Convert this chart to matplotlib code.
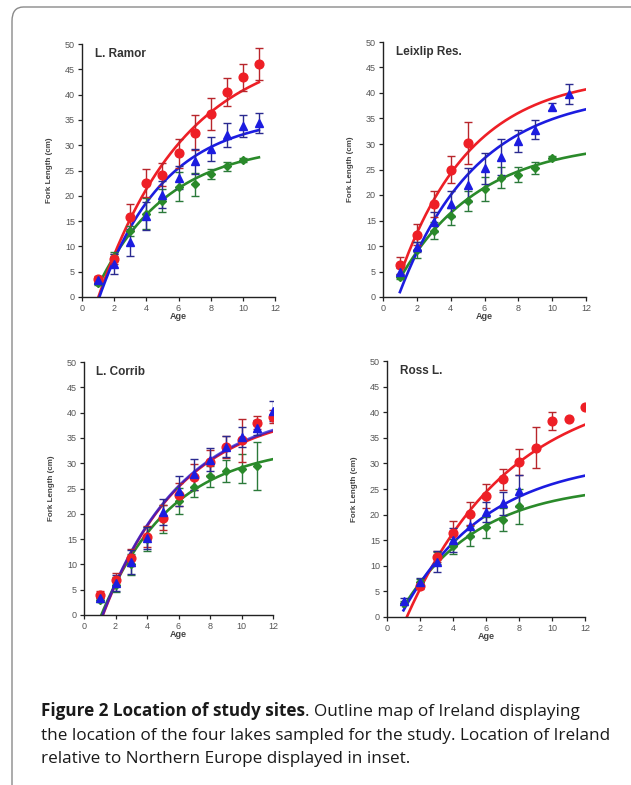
import numpy as np
import matplotlib
matplotlib.use("Agg")
import matplotlib.pyplot as plt
from matplotlib.patches import FancyBboxPatch

plt.rcParams['font.family'] = ['Liberation Sans', 'DejaVu Sans']

# ---------------- data ----------------
panel_titles = ["L. Ramor", "Leixlip Res.", "L. Corrib", "Ross L."]

# L. Ramor
ramor_red_age = [1, 2, 3, 4, 5, 6, 7, 8, 9, 10, 11]
ramor_red = [3.6, 7.5, 15.8, 22.5, 24.2, 28.4, 32.5, 36.2, 40.5, 43.4, 46.0]
ramor_red_err = [0.5, 1.0, 2.5, 2.8, 2.3, 2.9, 3.5, 3.2, 2.7, 2.7, 3.2]
ramor_blue_age = [1, 2, 3, 4, 5, 6, 7, 8, 9, 10, 11]
ramor_blue = [3.3, 6.5, 10.8, 16.0, 20.2, 23.6, 26.8, 29.3, 32.0, 33.8, 34.4]
ramor_blue_err = [0.5, 1.9, 2.6, 2.8, 2.7, 2.3, 2.4, 2.4, 2.4, 2.1, 1.9]
ramor_green_age = [1, 2, 3, 4, 5, 6, 7, 8, 9, 10]
ramor_green = [2.7, 8.0, 13.0, 16.5, 19.0, 21.8, 22.3, 24.3, 25.8, 27.0]
ramor_green_err = [0.4, 0.8, 1.0, 3.0, 2.3, 2.9, 2.3, 0.9, 0.8, 0.4]

# Leixlip Res.
leix_red_age = [1, 2, 3, 4, 5]
leix_red = [6.2, 12.2, 18.2, 25.0, 30.2]
leix_red_err = [1.6, 2.1, 2.5, 2.7, 4.2]
leix_blue_age = [1, 2, 3, 4, 5, 6, 7, 8, 9, 10, 11]
leix_blue = [5.0, 9.8, 14.7, 18.2, 22.0, 25.2, 27.5, 30.6, 32.8, 37.3, 39.8]
leix_blue_err = [0.6, 1.0, 2.0, 2.5, 3.3, 3.0, 3.5, 2.1, 1.9, 0.7, 1.9]
leix_green_age = [1, 2, 3, 4, 5, 6, 7, 8, 9, 10]
leix_green = [4.0, 9.2, 13.0, 15.8, 18.8, 21.2, 23.4, 24.0, 25.3, 27.3]
leix_green_err = [0.5, 1.6, 1.7, 1.7, 2.0, 2.3, 2.0, 1.4, 1.2, 0.3]

# L. Corrib
corrib_red_age = [1, 2, 3, 4, 5, 6, 7, 8, 9, 10, 11, 12]
corrib_red = [4.0, 7.0, 11.3, 15.5, 19.2, 23.8, 27.3, 30.2, 33.2, 34.5, 38.0, 39.2]
corrib_red_err = [0.7, 1.3, 1.7, 2.0, 2.5, 2.3, 2.6, 2.5, 2.2, 4.3, 1.3, 1.3]
corrib_blue_age = [1, 2, 3, 4, 5, 6, 7, 8, 9, 10, 11, 12]
corrib_blue = [3.3, 6.3, 10.5, 15.2, 20.3, 24.5, 27.8, 30.7, 33.3, 35.2, 37.0, 40.3]
corrib_blue_err = [0.4, 1.6, 2.4, 2.2, 2.6, 3.0, 3.1, 2.3, 2.1, 2.0, 1.5, 1.9]
corrib_green_age = [1, 2, 3, 4, 5, 6, 7, 8, 9, 10, 11]
corrib_green = [3.0, 6.0, 10.0, 15.0, 19.0, 22.5, 25.3, 27.4, 28.5, 28.9, 29.5]
corrib_green_err = [0.4, 1.5, 2.0, 2.3, 2.7, 2.6, 1.9, 2.1, 2.2, 2.9, 4.7]

# Ross L.
ross_red_age = [2, 3, 4, 5, 6, 7, 8, 9, 10, 11, 12]
ross_red = [6.0, 11.8, 16.5, 20.2, 23.6, 26.9, 30.3, 33.1, 38.3, 38.7, 41.0]
ross_red_err = [0.5, 1.0, 2.3, 2.2, 2.4, 2.0, 2.6, 4.0, 1.7, 0.0, 0.0]
ross_blue_age = [1, 2, 3, 4, 5, 6, 7, 8]
ross_blue = [3.2, 6.8, 10.8, 15.0, 17.8, 20.5, 22.2, 24.6]
ross_blue_err = [0.6, 0.8, 2.0, 2.4, 2.2, 1.9, 2.3, 3.1]
ross_green_age = [1, 2, 3, 4, 5, 6, 7, 8]
ross_green = [2.8, 6.8, 11.5, 13.8, 15.8, 17.5, 19.0, 21.6]
ross_green_err = [0.4, 0.6, 1.2, 1.4, 1.9, 2.0, 2.2, 3.4]

# fitted growth curves: (L_inf, K, t0, last age)
ramor_fits = {"red": (50.5, 0.184, 1.02, 11), "blue": (36.0, 0.25, 1.08, 11), "green": (30.4, 0.231, 0.68, 11)}
leix_fits = {"red": (43.65, 0.236, 0.57, 12), "blue": (40.3, 0.22, 0.89, 12), "green": (30.6, 0.216, 0.42, 12)}
corrib_fits = {"red": (41.0, 0.20, 1.20, 12), "blue": (41.4, 0.198, 1.18, 12), "green": (33.7, 0.225, 1.10, 12)}
ross_fits = {"red": (45.9, 0.158, 1.20, 12), "blue": (31.1, 0.195, 0.78, 12), "green": (26.0, 0.217, 0.63, 12)}

panels = [
    (ramor_red_age, ramor_red, ramor_red_err, ramor_blue_age, ramor_blue, ramor_blue_err,
     ramor_green_age, ramor_green, ramor_green_err, ramor_fits),
    (leix_red_age, leix_red, leix_red_err, leix_blue_age, leix_blue, leix_blue_err,
     leix_green_age, leix_green, leix_green_err, leix_fits),
    (corrib_red_age, corrib_red, corrib_red_err, corrib_blue_age, corrib_blue, corrib_blue_err,
     corrib_green_age, corrib_green, corrib_green_err, corrib_fits),
    (ross_red_age, ross_red, ross_red_err, ross_blue_age, ross_blue, ross_blue_err,
     ross_green_age, ross_green, ross_green_err, ross_fits),
]

caption_bold = "Figure 2 Location of study sites"
caption_lines = [". Outline map of Ireland displaying",
                 "the location of the four lakes sampled for the study. Location of Ireland",
                 "relative to Northern Europe displayed in inset."]

# ---------------- styling ----------------
W, H = 631, 785
COL = {"red": "#ee1f26", "blue": "#1c1ce0", "green": "#2a8a2a"}
ECOL = {"red": "#b8262c", "blue": "#2a2a90", "green": "#2b7a3a"}
MARK = {"red": ("o", 6.3), "blue": ("^", 6.1), "green": ("D", 4.4)}

# axes boxes in pixels: left, right, top, bottom
boxes = [(82, 275, 44, 297), (383, 586, 42, 297), (84, 273, 362, 615), (387, 585, 361, 617)]

fig = plt.figure(figsize=(W / 100, H / 100), dpi=100)

# frame
frame = FancyBboxPatch((12 / W, -0.05), 1.2, (H - 7) / H + 0.05,
                       boxstyle="round,pad=0,rounding_size=0.018",
                       transform=fig.transFigure, facecolor="none",
                       edgecolor="#8a8a8a", linewidth=1.0, clip_on=False)
fig.patches.append(frame)

for (l, r, t, b), title, pdata in zip(boxes, panel_titles, panels):
    ax = fig.add_axes([l / W, 1 - b / H, (r - l) / W, (b - t) / H])
    (ra, rv, re, ba, bv, be, ga, gv, ge, fits) = pdata
    # fitted curves
    for key in ["green", "red", "blue"]:
        Linf, K, t0, tmax = fits[key]
        tt = np.linspace(1, tmax, 300)
        yy = Linf * (1 - np.exp(-K * (tt - t0)))
        alpha = 0.75 if (title == "L. Corrib" and key == "blue") else 1.0
        ax.plot(tt, yy, color=COL[key], lw=1.9, alpha=alpha, zorder=2)
    for key, a, v, e in [("green", ga, gv, ge), ("red", ra, rv, re), ("blue", ba, bv, be)]:
        m, ms = MARK[key]
        ax.errorbar(a, v, yerr=e, fmt="none", ecolor=ECOL[key], elinewidth=1.0,
                    capsize=2.6, capthick=1.0, zorder=3)
        ax.plot(a, v, ls="none", marker=m, ms=ms, color=COL[key], mec=COL[key], zorder=4)
    ax.set_xlim(0, 12)
    ax.set_ylim(0, 50)
    ax.set_xticks(np.arange(0, 13, 2))
    ax.set_yticks(np.arange(0, 51, 5))
    for s in ["top", "right"]:
        ax.spines[s].set_visible(False)
    for s in ["left", "bottom"]:
        ax.spines[s].set_linewidth(1.0)
        ax.spines[s].set_color("#222222")
    ax.tick_params(direction="out", length=3, width=0.9, labelsize=6.5,
                   labelcolor="#555555", color="#222222", pad=2)
    ax.set_xlabel("Age", fontsize=6.5, fontweight="bold", color="#444444", labelpad=-1)
    ax.set_ylabel("Fork Length (cm)", fontsize=5.8, fontweight="bold", color="#444444", labelpad=9)
    ax.text(0.065, 0.985, title, transform=ax.transAxes, fontsize=8.5, fontweight="bold",
            color="#333333", va="top", ha="left")
    ax.set_facecolor("none")

# caption: size chosen so the second line spans the same width as in the reference
cap_font = ['Open Sans', 'DejaVu Sans']
fig.canvas.draw()
renderer = fig.canvas.get_renderer()
probe = fig.text(0, 0, caption_lines[1], fontsize=10, family=cap_font)
wpx = probe.get_window_extent(renderer).width
probe.remove()
fs = 10 * 566.0 / wpx

y1 = 1 - 716 / H
t_bold = fig.text(41 / W, y1, caption_bold, fontsize=fs, fontweight="bold",
                  family=cap_font, color="#1a1a1a", va="baseline")
bb = t_bold.get_window_extent(renderer)
fig.text(bb.x1 / W, y1, caption_lines[0], fontsize=fs, family=cap_font,
         color="#1a1a1a", va="baseline")
fig.text(41 / W, 1 - 740 / H, caption_lines[1],
         fontsize=fs, family=cap_font, color="#1a1a1a", va="baseline")
fig.text(41 / W, 1 - 763 / H, caption_lines[2],
         fontsize=fs, family=cap_font, color="#1a1a1a", va="baseline")

fig.savefig("out.png", dpi=100)
